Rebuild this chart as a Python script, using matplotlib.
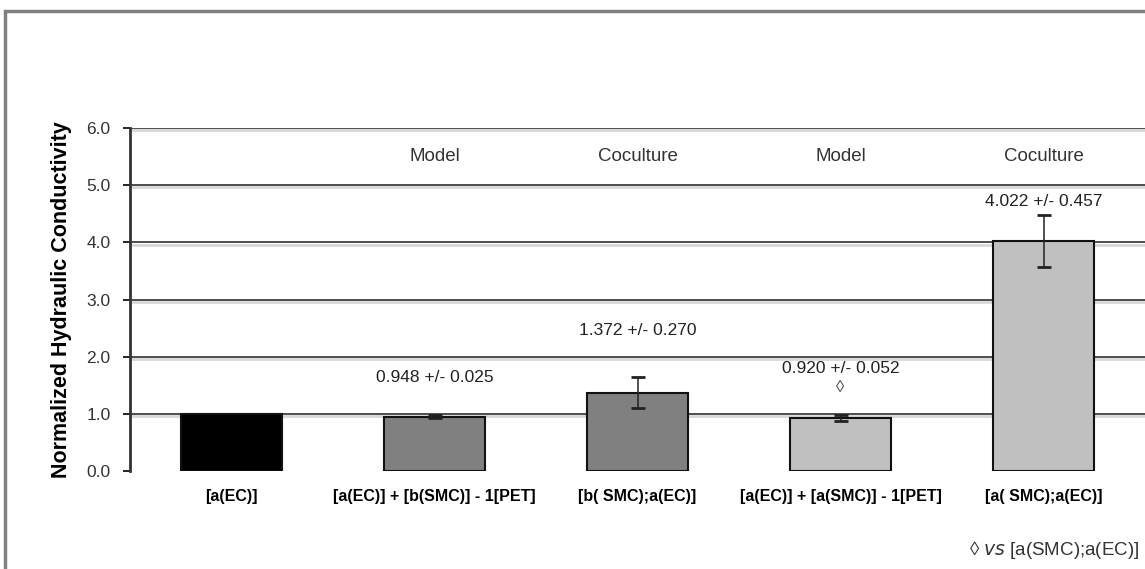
import numpy as np
import matplotlib.pyplot as plt
from matplotlib.patches import Rectangle

plt.rcParams['font.family'] = ['Liberation Sans', 'DejaVu Sans']

# Hydraulic conductivity per culture condition
conditions = ['[a(EC)]', '[a(EC)] + [b(SMC)] - 1[PET]', '[b( SMC);a(EC)]',
              '[a(EC)] + [a(SMC)] - 1[PET]', '[a( SMC);a(EC)]']
means = [1.0, 0.948, 1.372, 0.920, 4.022]
errors = [0.0, 0.025, 0.270, 0.052, 0.457]
group_tags = ['', 'Model', 'Coculture', 'Model', 'Coculture']
value_labels = ['', '0.948 +/- 0.025', '1.372 +/- 0.270', '0.920 +/- 0.052', '4.022 +/- 0.457']
label_heights = [0, 1.64, 2.45, 1.80, 4.72]
bar_colors = ['#000000', '#808080', '#808080', '#c0c0c0', '#c0c0c0']

fig = plt.figure(figsize=(11.45, 5.69), dpi=100)

# outer chart frame
fig.patches.append(Rectangle((5 / 1145, -0.1), 1.2, 1.1 - 11 / 569, transform=fig.transFigure,
                             fill=False, edgecolor='#808080', linewidth=2.5))

ax = fig.add_axes([130 / 1145, 98 / 569, 1 - 130 / 1145, 343 / 569])
x = np.arange(len(conditions))

# gridlines with a light shadow underneath
for yv in range(1, 7):
    ax.axhline(yv - 0.04, color='#d8d8d8', linewidth=2, zorder=0)
    ax.axhline(yv, color='#404040', linewidth=1.3, zorder=0.5)
ax.axhline(-0.03, color='#d8d8d8', linewidth=2, zorder=0)

ax.bar(x, means, width=0.5, color=bar_colors, edgecolor='#111111', linewidth=1.5, zorder=2)
ax.errorbar(x[1:], means[1:], yerr=errors[1:], fmt='none', ecolor='#222222',
            elinewidth=1.1, capsize=5, capthick=2, zorder=3)

for xi, tag, lab, h in zip(x, group_tags, value_labels, label_heights):
    if tag:
        ax.text(xi, 5.5, tag, ha='center', va='center', fontsize=13.5, color='#333333')
    if lab:
        ax.text(xi, h, lab, ha='center', va='center', fontsize=12.5, color='#222222')
ax.text(3, 1.46, '\u25ca', ha='center', va='center', fontsize=12, color='#444444')

ax.set_xlim(-0.5, 4.5)
ax.set_ylim(0, 6)
ax.set_yticks(np.arange(0, 7, 1))
ax.set_yticklabels([f'{v:.1f}' for v in np.arange(0, 7, 1)], fontsize=12.5, color='#333333')
ax.tick_params(axis='y', direction='out', length=5, width=1.2, pad=9)
ax.set_xticks(x)
ax.set_xticklabels(conditions, fontsize=11.5, fontweight='bold')
ax.tick_params(axis='x', length=0, pad=13)
ax.set_ylabel('Normalized Hydraulic Conductivity', fontsize=15.5, fontweight='bold', labelpad=10)

for side in ['top', 'right', 'bottom']:
    ax.spines[side].set_visible(False)
ax.spines['left'].set_linewidth(2)
ax.spines['left'].set_color('#333333')

fig.text(1 - 6 / 1145, 1 - 550 / 569, '\u25ca $\\it{vs}$ [a(SMC);a(EC)]', fontsize=13.5,
         color='#333333', va='center', ha='right')

fig.savefig('out.png', dpi=100)
